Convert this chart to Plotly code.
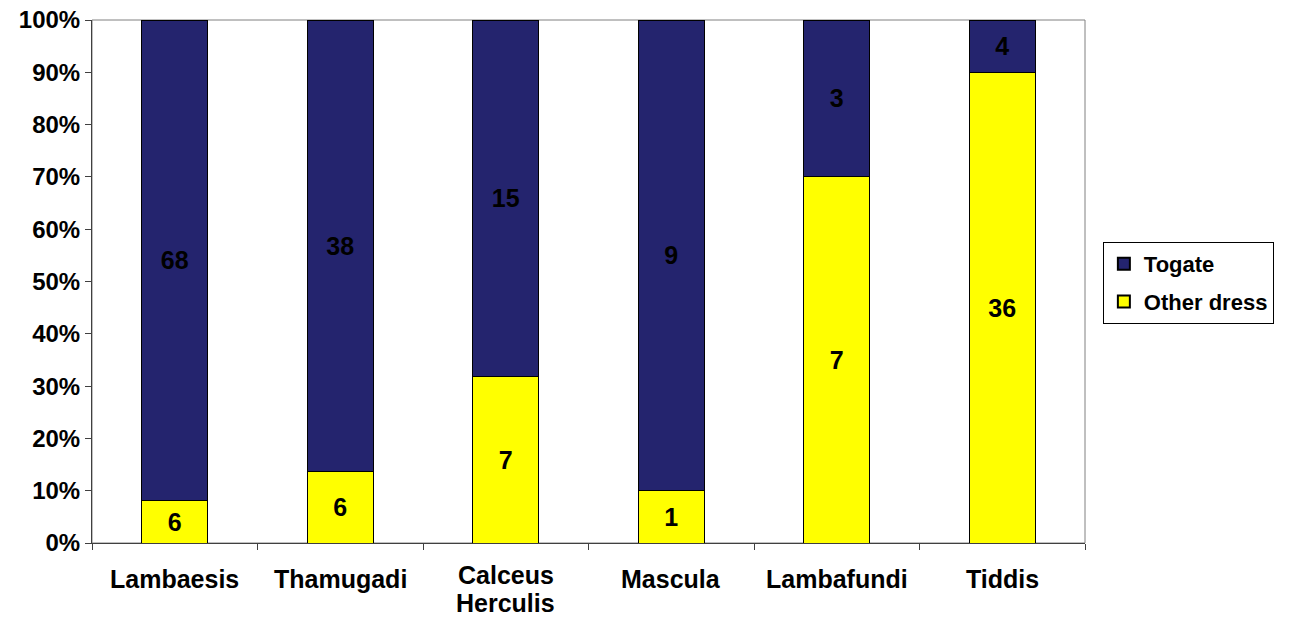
import plotly.graph_objects as go

# Counts of statues per site, by dress type
sites = ["Lambaesis", "Thamugadi", "Calceus Herculis", "Mascula", "Lambafundi", "Tiddis"]
site_label_lines = [["Lambaesis"], ["Thamugadi"], ["Calceus", "Herculis"],
                    ["Mascula"], ["Lambafundi"], ["Tiddis"]]
other_dress = [6, 6, 7, 1, 7, 36]
togate = [68, 38, 15, 9, 3, 4]

y_ticks = list(range(0, 101, 10))
y_tick_labels = [f"{v}%" for v in y_ticks]

FONT = "Liberation Sans, Arial, sans-serif"
NAVY = "#24246E"
YELLOW = "#FFFF00"
FS = 24

fig = go.Figure()
fig.add_trace(go.Bar(
    name="Other dress", x=sites, y=other_dress, legendgroup="other", legendrank=2,
    marker=dict(color=YELLOW, line=dict(color="#000000", width=1)),
    text=[str(v) for v in other_dress], textposition="inside",
    insidetextanchor="middle", constraintext="none",
    textfont=dict(family=FONT, size=25, color="#000000", weight="bold"),
    hoverinfo="x+y",
))
fig.add_trace(go.Bar(
    name="Togate", x=sites, y=togate, legendgroup="togate", legendrank=1,
    marker=dict(color=NAVY, line=dict(color="#000000", width=1)),
    text=[str(v) for v in togate], textposition="inside",
    insidetextanchor="middle", constraintext="none",
    textfont=dict(family=FONT, size=25, color="#000000", weight="bold"),
    hoverinfo="x+y",
))

# Category labels below the axis, one annotation per line for tight line spacing
annotations = []
for site, lines in zip(sites, site_label_lines):
    first_shift = -36 if len(lines) == 1 else -32
    for i, line in enumerate(lines):
        annotations.append(dict(
            x=site, xref="x", y=0, yref="paper", yanchor="middle",
            yshift=first_shift - 28 * i, text=line, showarrow=False,
            font=dict(family=FONT, size=25, color="#000000", weight="bold"),
        ))

fig.update_layout(
    width=1289, height=618,
    barmode="stack", barnorm="percent", bargap=0.6,
    margin=dict(l=92, r=204, t=20, b=75),
    paper_bgcolor="#FFFFFF", plot_bgcolor="#FFFFFF",
    font=dict(family=FONT, size=FS, color="#000000", weight="bold"),
    uniformtext=dict(minsize=25, mode="show"),
    showlegend=True,
    legend=dict(
        x=1.018, y=0.5755, xanchor="left", yanchor="top",
        bordercolor="#000000", borderwidth=1, bgcolor="#FFFFFF",
        traceorder="grouped",
        font=dict(family=FONT, size=22, color="#000000", weight="bold"),
        itemsizing="constant", tracegroupgap=6,
    ),
    xaxis=dict(
        showgrid=False, showline=True, linecolor="#404040", linewidth=1,
        ticks="outside", ticklen=6, tickcolor="#404040", tickson="boundaries",
        showticklabels=False, automargin=False,
    ),
    yaxis=dict(
        range=[0, 100], tickvals=y_ticks, ticktext=y_tick_labels,
        showgrid=False, zeroline=False, showline=True, linecolor="#404040", linewidth=1,
        ticks="outside", ticklen=6, tickcolor="#404040", automargin=False,
        tickfont=dict(family=FONT, size=FS, color="#000000", weight="bold"),
    ),
    annotations=annotations,
    shapes=[dict(
        type="rect", xref="paper", yref="paper", x0=0, x1=1, y0=0, y1=1,
        line=dict(color="#808080", width=1), layer="below",
    )],
)

fig.write_html("out.html")
